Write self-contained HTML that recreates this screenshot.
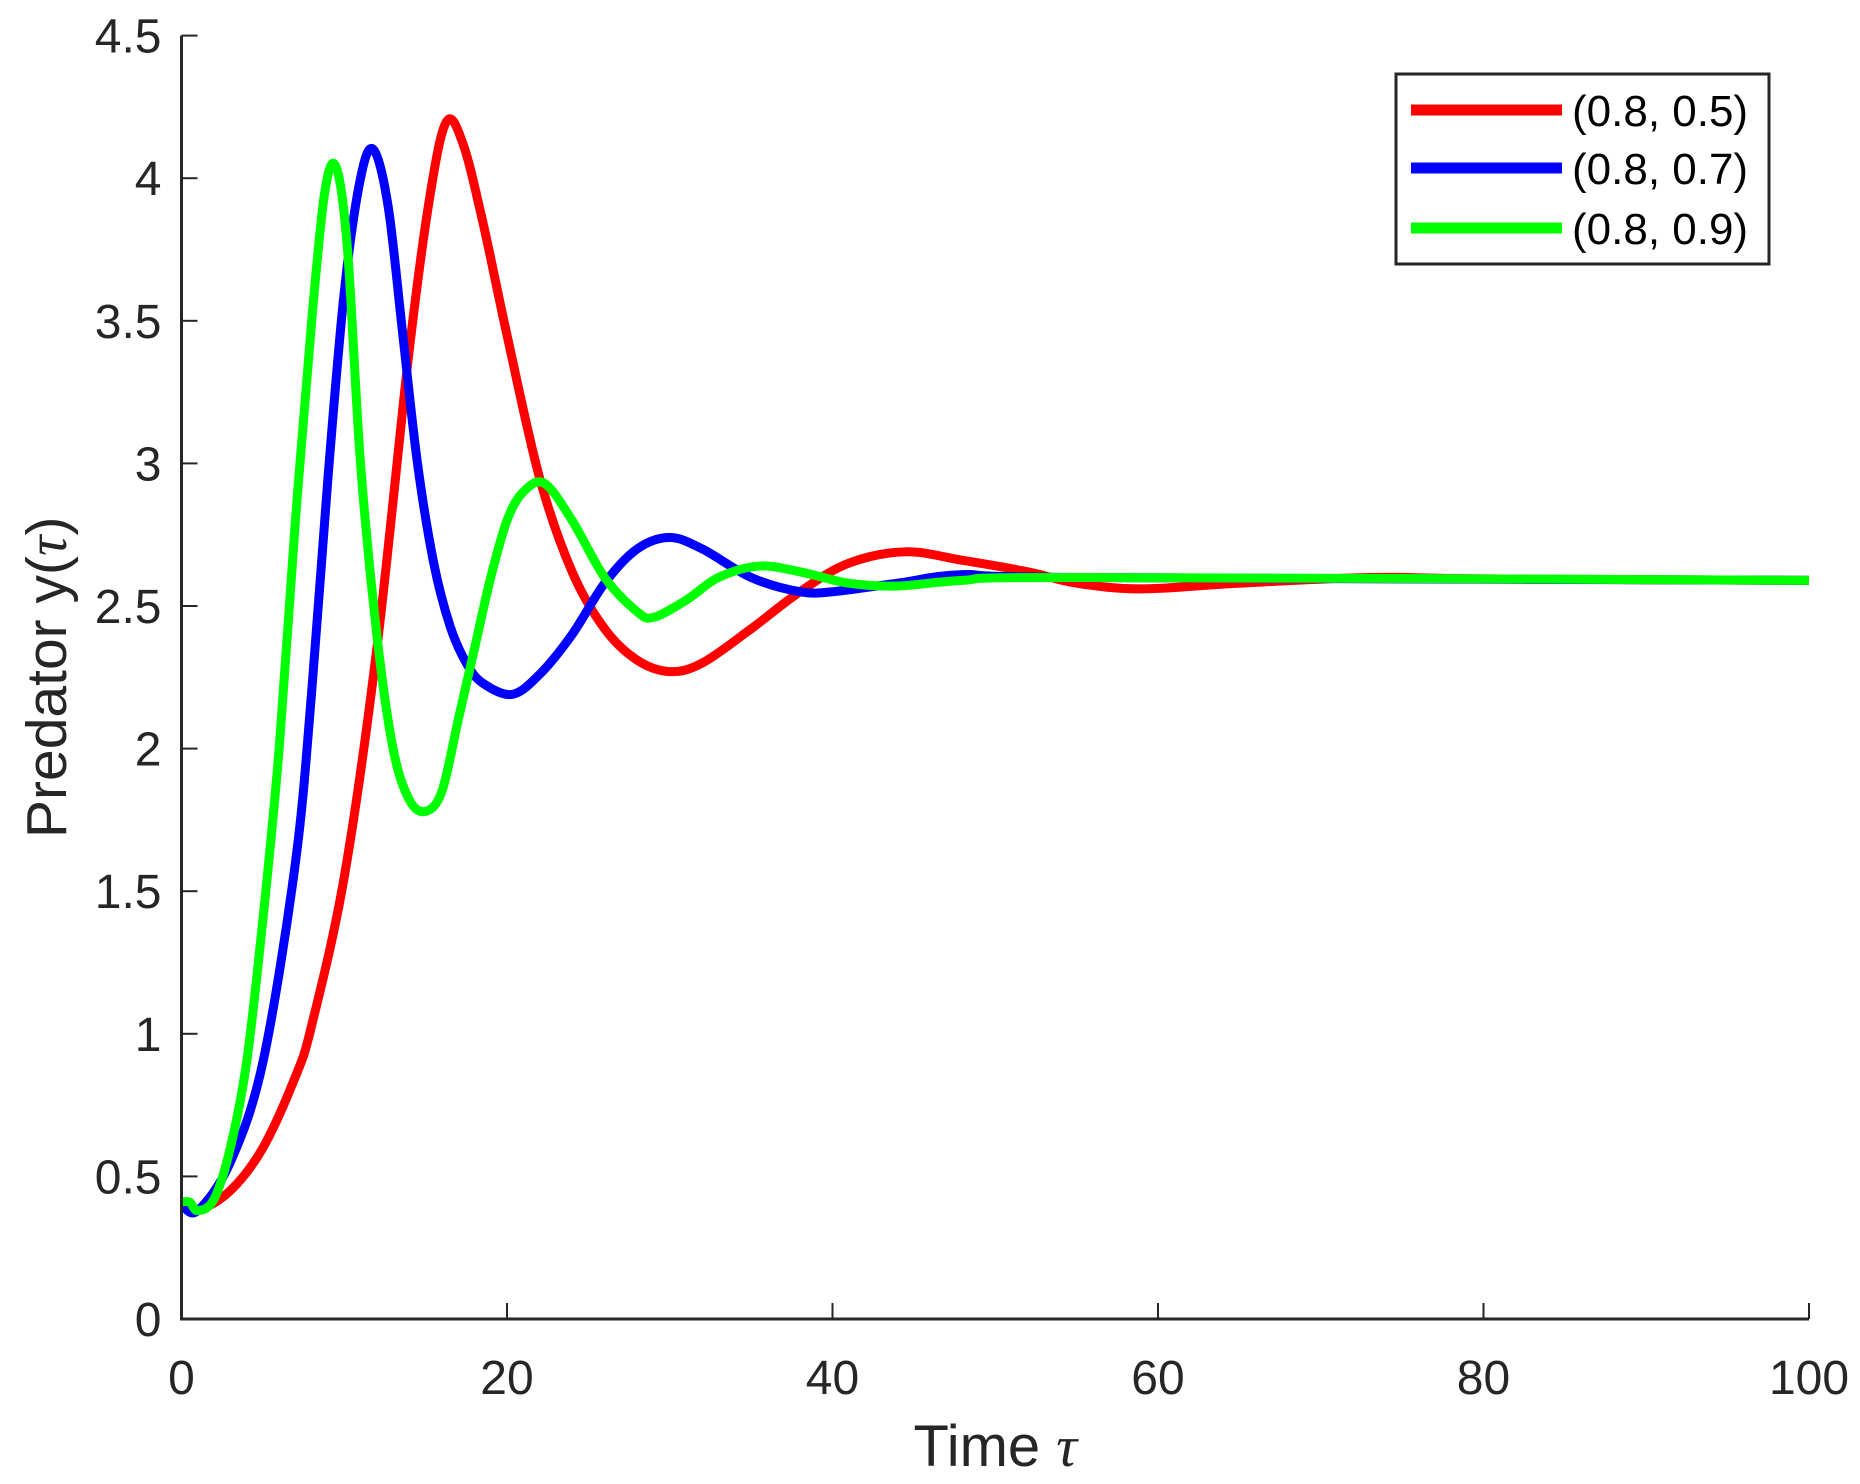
<!DOCTYPE html>
<html><head><meta charset="utf-8"><style>
html,body{margin:0;padding:0;background:#fff;}
svg{display:block;font-family:"Liberation Sans",sans-serif;}
</style></head><body>
<svg id="chart" width="1860" height="1484" viewBox="0 0 1860 1484" xmlns="http://www.w3.org/2000/svg">
<rect width="1860" height="1484" fill="#fff"/>
<g id="plot"></g>
</svg>
<script>
const xTicks=[0,20,40,60,80,100];
const yTicks=[0,0.5,1,1.5,2,2.5,3,3.5,4,4.5];
const yTickLabels=["0","0.5","1","1.5","2","2.5","3","3.5","4","4.5"];
const seriesNames=["(0.8, 0.5)","(0.8, 0.7)","(0.8, 0.9)"];
const seriesColors=["#ff0000","#0000ff","#00ff00"];
const redT=[0,1,3,5,7,8,10,12,14,15.3,16.3,17.3,18.5,20,22,24,26,28,30,32,35,38,41,44.5,48,52,55,59,65,73,80,100];
const redY=[0.4,0.38,0.45,0.6,0.85,1.03,1.55,2.35,3.4,3.95,4.2,4.12,3.85,3.45,2.95,2.62,2.42,2.31,2.27,2.3,2.42,2.55,2.65,2.69,2.66,2.62,2.58,2.56,2.58,2.6,2.595,2.59];
const blueT=[0,1,3,5,7,8,9,10,11,11.8,12.7,13.6,14.5,15.5,16.5,17.5,18.5,20.3,22,24,26,28,30,32,35,38,40,44,48,55,100];
const blueY=[0.4,0.38,0.55,0.9,1.6,2.2,2.95,3.6,4.0,4.1,3.9,3.45,3.0,2.65,2.43,2.3,2.23,2.19,2.26,2.4,2.58,2.7,2.74,2.7,2.6,2.55,2.55,2.58,2.61,2.6,2.59];
const greenT=[0,0.5,1,2,3,4,5,6,7,8,8.8,9.5,10.2,11,12,13,14,15,16,17,18,19,20,21,22.3,24,26,28,29,31,33,35.5,38,41,44,48,55,100];
const greenY=[0.41,0.41,0.38,0.42,0.6,0.9,1.4,2.0,2.8,3.5,3.95,4.04,3.75,3.0,2.4,2.0,1.82,1.78,1.85,2.1,2.35,2.6,2.8,2.9,2.93,2.8,2.6,2.48,2.46,2.52,2.6,2.64,2.62,2.58,2.57,2.59,2.6,2.59];
const seriesT=[redT,blueT,greenT], seriesY=[redY,blueY,greenY];

const NS="http://www.w3.org/2000/svg";
const X0=181.5,X1=1809,Y0=1319,Y1=35.6;
const xs=v=>X0+(v-0)/(100-0)*(X1-X0);
const ys=v=>Y0-(v-0)/(4.5-0)*(Y0-Y1);
const g=document.getElementById('plot');
function mk(tag,attrs,parent){const e=document.createElementNS(NS,tag);for(const k in attrs)e.setAttribute(k,attrs[k]);(parent||g).appendChild(e);return e;}

for(let s=0;s<3;s++){
  const T=seriesT[s],Y=seriesY[s];
  const P=T.map((t,i)=>[xs(t),ys(Y[i])]);
  let d="M"+P[0][0]+","+P[0][1];
  for(let i=0;i<P.length-1;i++){
    const p0=P[Math.max(0,i-1)],p1=P[i],p2=P[i+1],p3=P[Math.min(P.length-1,i+2)];
    const c1=[p1[0]+(p2[0]-p0[0])/6,p1[1]+(p2[1]-p0[1])/6];
    const c2=[p2[0]-(p3[0]-p1[0])/6,p2[1]-(p3[1]-p1[1])/6];
    d+=" C"+c1[0]+","+c1[1]+" "+c2[0]+","+c2[1]+" "+p2[0]+","+p2[1];
  }
  const path=mk('path',{d:d,fill:'none',stroke:seriesColors[s],'stroke-width':9,'stroke-linejoin':'round'});
  
  
}
const ax=mk('path',{d:`M${X0},${Y1} L${X0},${Y0} L${X1},${Y0}`,fill:'none',stroke:'#262626','stroke-width':3});


xTicks.forEach(v=>{
  const x=xs(v);
  const t=mk('line',{x1:x,x2:x,y1:Y0,y2:Y0-16,stroke:'#262626','stroke-width':2});
  
  
  const l=mk('text',{x:x,y:Y0+75,'text-anchor':'middle','font-size':48,fill:'#262626'});
  l.textContent=String(v);
  
  
});
yTicks.forEach((v,i)=>{
  const y=ys(v);
  const t=mk('line',{x1:X0,x2:X0+16,y1:y,y2:y,stroke:'#262626','stroke-width':2});
  
  
  const l=mk('text',{x:X0-20,y:y+17,'text-anchor':'end','font-size':48,fill:'#262626'});
  l.textContent=yTickLabels[i];
  
  
});
const xt=mk('text',{x:(X0+X1)/2,y:1466,'text-anchor':'middle','font-size':58,fill:'#262626'});
xt.innerHTML='Time <tspan font-family="Liberation Serif" font-style="italic">τ</tspan>';


const yt=mk('text',{x:0,y:0,'text-anchor':'middle','font-size':57,fill:'#262626',transform:`translate(66,${(Y0+Y1)/2}) rotate(-90)`});
yt.innerHTML='Predator y(<tspan font-family="Liberation Serif" font-style="italic">τ</tspan>)';


const lg=mk('g',{});


mk('rect',{x:1396,y:74,width:373,height:190,fill:'#fff',stroke:'#262626','stroke-width':3},lg);
const ly=[110,168,228];
for(let s=0;s<3;s++){
  const e=mk('g',{},lg);
  
  
  mk('line',{x1:1411,x2:1562,y1:ly[s],y2:ly[s],stroke:seriesColors[s],'stroke-width':11},e);
  const t=mk('text',{x:1572,y:ly[s]+16,'font-size':44,fill:'#000'},e);
  t.textContent=seriesNames[s];
}
</script>
</body></html>
